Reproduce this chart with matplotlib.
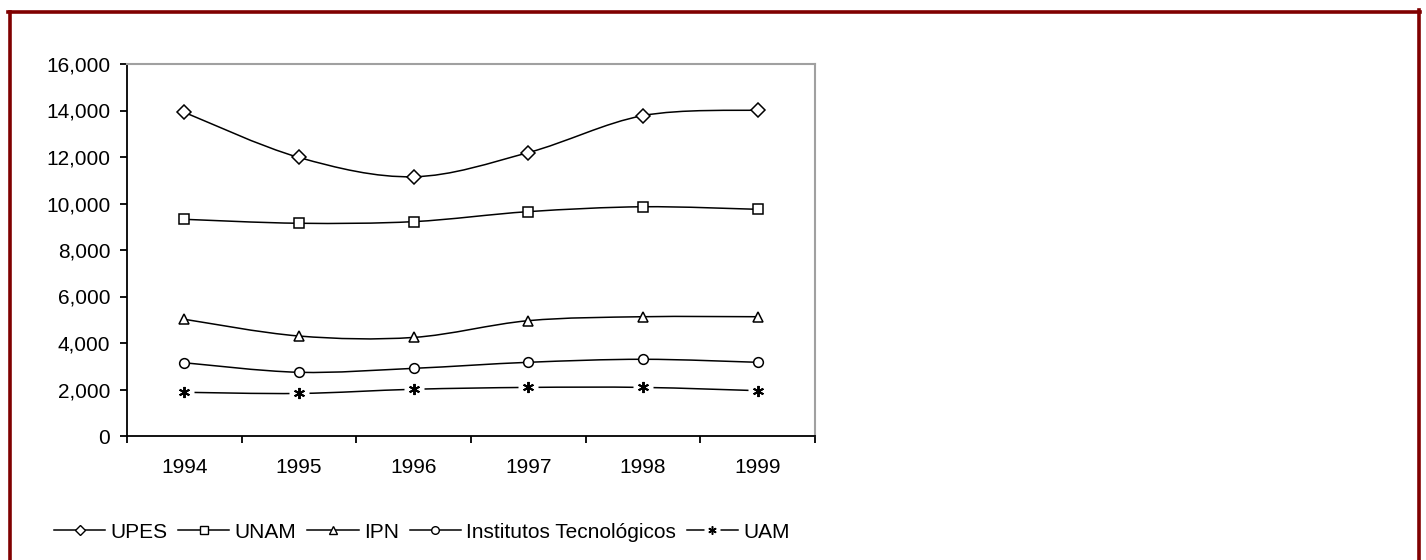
import matplotlib
matplotlib.use("Agg")
import matplotlib.pyplot as plt
from matplotlib.path import Path
from matplotlib.patches import PathPatch
from matplotlib.lines import Line2D
from matplotlib.legend_handler import HandlerTuple
from matplotlib.ticker import FuncFormatter

plt.rcParams['font.family'] = ['Liberation Sans', 'DejaVu Sans']

# data
years = ['1994', '1995', '1996', '1997', '1998', '1999']
upes = [13920, 11980, 11150, 12190, 13780, 14020]
unam = [9320, 9150, 9220, 9650, 9860, 9750]
ipn = [5020, 4300, 4240, 4960, 5130, 5130]
institutos = [3150, 2740, 2910, 3170, 3300, 3170]
uam = [1880, 1830, 2010, 2090, 2090, 1950]

series_names = ['UPES', 'UNAM', 'IPN', 'Institutos Tecnológicos', 'UAM']
series_values = [upes, unam, ipn, institutos, uam]
markers = ['D', 's', '^', 'o', (6, 2, 0)]
msizes = [7, 7.5, 7.5, 7, 8]


def smooth_path(xs, ys):
    # bezier through the points, like Excel's smoothed line
    pts = list(zip(xs, ys))
    n = len(pts)
    verts = [pts[0]]
    codes = [Path.MOVETO]
    for i in range(n - 1):
        p0 = pts[i - 1] if i > 0 else pts[i]
        p1 = pts[i]
        p2 = pts[i + 1]
        p3 = pts[i + 2] if i + 2 < n else pts[i + 1]
        c1 = (p1[0] + (p2[0] - p0[0]) / 6, p1[1] + (p2[1] - p0[1]) / 6)
        c2 = (p2[0] - (p3[0] - p1[0]) / 6, p2[1] - (p3[1] - p1[1]) / 6)
        verts += [c1, c2, p2]
        codes += [Path.CURVE4] * 3
    return Path(verts, codes)


fig = plt.figure(figsize=(14.26, 5.6), dpi=100)
ax = fig.add_axes([127 / 1426, 1 - 436 / 560, (815 - 127) / 1426, (436 - 64) / 560])

x = list(range(len(years)))
handles = []
for name, vals, mk, ms in zip(series_names, series_values, markers, msizes):
    ax.add_patch(PathPatch(smooth_path(x, vals), facecolor='none',
                           edgecolor='black', linewidth=1.1, zorder=2))
    if name == 'UAM':
        # line stops short of the asterisk markers
        ax.plot(x, vals, linestyle='none', marker='s', markersize=15,
                markerfacecolor='white', markeredgecolor='none', zorder=3)
        ax.plot(x, vals, linestyle='none', marker=mk, markersize=ms,
                markeredgecolor='black', markeredgewidth=1.4, zorder=4)
        h = (Line2D([], [], color='black', linewidth=1.1),
             Line2D([], [], linestyle='none', marker='s', markersize=11,
                    markerfacecolor='white', markeredgecolor='none'),
             Line2D([], [], linestyle='none', marker=mk, markersize=6,
                    markeredgecolor='black', markeredgewidth=1.1))
    else:
        ax.plot(x, vals, linestyle='none', marker=mk, markersize=ms,
                markerfacecolor='white', markeredgecolor='black',
                markeredgewidth=1.1, zorder=4)
        h = Line2D([], [], color='black', linewidth=1.1, marker=mk,
                   markersize=ms - 1.5, markerfacecolor='white',
                   markeredgecolor='black', markeredgewidth=1.0)
    handles.append(h)

ax.set_xlim(-0.5, 5.5)
ax.set_ylim(0, 16000)
ax.set_yticks(range(0, 16001, 2000))
ax.yaxis.set_major_formatter(FuncFormatter(lambda v, p: f'{int(v):,}'))
ax.set_xticks([i - 0.5 for i in range(len(years) + 1)])
ax.set_xticklabels([])
ax.set_xticks(x, minor=True)
ax.set_xticklabels(years, minor=True)
ax.tick_params(axis='x', which='minor', length=0, pad=16, labelsize=15)
ax.tick_params(axis='x', which='major', length=5, width=1.3, direction='out')
ax.tick_params(axis='y', length=5, width=1.3, direction='out', pad=7, labelsize=15)

ax.spines['left'].set_linewidth(1.3)
ax.spines['bottom'].set_linewidth(1.3)
ax.spines['top'].set_color('#a0a0a0')
ax.spines['right'].set_color('#a0a0a0')
ax.spines['top'].set_linewidth(1.5)
ax.spines['right'].set_linewidth(1.5)

fig.legend(handles, series_names, loc='center left',
           bbox_to_anchor=(54 / 1426, 1 - 532 / 560), ncol=5, frameon=False,
           fontsize=15, handlelength=2.45, handletextpad=0.25,
           columnspacing=0.53, borderpad=0, borderaxespad=0,
           handler_map={tuple: HandlerTuple(ndivide=1, pad=0)})

# dark red frame round the picture (no bottom edge)
border = '#800000'
fig.add_artist(Line2D([9.5 / 1426, 9.5 / 1426], [0, 1 - 11.5 / 560],
                      transform=fig.transFigure, color=border, linewidth=2.6))
fig.add_artist(Line2D([8 / 1426, 1420 / 1426], [1 - 11.5 / 560, 1 - 11.5 / 560],
                      transform=fig.transFigure, color=border, linewidth=2.6))
fig.add_artist(Line2D([1418.5 / 1426, 1418.5 / 1426], [0, 1 - 10 / 560],
                      transform=fig.transFigure, color=border, linewidth=2.6))

fig.savefig('out.png', dpi=100)
